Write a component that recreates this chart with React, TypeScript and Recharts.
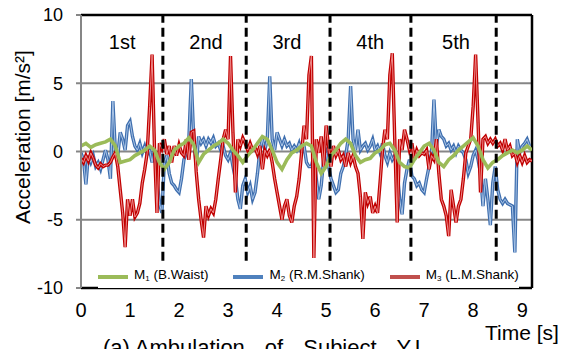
import React from "react";
import {
  LineChart,
  Line,
  XAxis,
  YAxis,
  CartesianGrid,
  ReferenceLine,
  ReferenceDot,
} from "recharts";

// sampling grid of the recorded signals
const STEP = 0.05;
const GREEN_STEP = 0.1;

// M3 (L.M.Shank), every 0.05 s from 0 s
const m3Values = [
  -0.5, -0.8, -0.3, -0.7, -0.1, -0.5, -1.0, -1.2, -0.9, -1.1, -1.0, -1.0, -0.8, -0.4, -0.1, -1.1, -2.8, -4.5, -7.0, -3.5,
  -4.7, -3.5, -4.8, -4.5, -3.8, -2.3, -1.3, -0.1, 3.3, 7.1, 0.1, -4.5, 0.6, 0.2, 0.9, -0.2, 0.4, -0.8, 0.4, -0.3,
  0.5, -0.1, -0.3, 0.9, -0.6, 1.4, 1.5, -1.5, -3.5, -5.0, -6.3, -4.0, -4.7, -4.2, -4.5, -3.5, -2.0, -0.6, 0.9, 1.6,
  0.9, 7.0, 1.4, -3.0, 0.9, 0.4, 1.0, 0.6, 0.1, 0.6, 0.1, 0.3, -0.2, 0.4, -1.3, 0.1, -0.3, 0.1, -0.8, -2.0,
  -3.0, -4.0, -5.0, -4.0, -3.5, -4.7, -5.2, -4.0, -3.3, -2.0, -0.1, 1.9, 0.9, 5.6, 7.0, -7.8, 0.9, -0.1, 1.1, -1.1,
  1.9, 0.4, -1.1, 0.4, -0.3, 0.1, -0.6, -0.3, -1.1, -0.1, -0.8, -0.3, -1.1, -1.6, -3.3, -6.4, -3.0, -3.8, -3.3, -4.5,
  -4.0, -4.5, -2.3, 0.1, 1.6, 0.9, 5.6, 7.2, 0.9, -5.2, 0.9, 0.1, 1.6, 0.9, 0.1, 0.6, -0.6, 0.1, -0.3, -0.1,
  -0.2, 0.1, -1.3, -0.3, -0.6, 0.9, -1.6, -3.5, -4.0, -4.7, -6.2, -2.8, -4.0, -5.2, -4.0, -3.5, -2.0, -0.1, 0.4, 0.9,
  3.3, 7.1, 2.1, -3.0, 0.9, 1.1, 0.6, 0.9, 0.6, 0.9, 0.4, 0.6, 0.1, 0.9, 0.1, 0.4, -0.3, -0.1, -0.8, -0.3,
  -0.8, -0.3, -0.8, -0.6, -0.7,
];

// M2 (R.M.Shank), every 0.05 s from 0 s
const m2Values = [
  -0.1, -0.6, -2.4, -0.3, -0.8, -0.3, -1.1, -0.8, -1.3, -0.6, 0.1, -0.6, -2.0, 3.7, 0.1, -0.3, 1.4, 0.9, 0.1, 1.9,
  2.2, 1.1, 0.4, 0.1, 0.6, -0.1, 0.4, -0.2, 0.1, -0.8, 0.1, -2.0, -3.8, -4.5, -0.8, -0.3, -1.6, -2.3, -2.5, -2.8,
  -3.0, -2.0, -0.6, -0.1, 0.9, 5.3, 0.9, -1.0, 1.1, 0.6, 0.9, 0.4, 0.9, 0.6, 1.0, 0.4, 0.6, 0.1, 0.4, -0.3,
  -0.6, -0.1, -1.1, -2.0, -3.5, -4.2, -2.5, -2.0, -3.0, -2.5, -3.5, -3.0, -1.6, 0.1, 0.9, 0.1, 0.9, 5.5, 0.9, 0.1,
  1.4, 0.9, 0.4, 0.9, 0.4, 0.6, 0.1, 0.4, 0.1, 0.6, -0.1, 0.4, -0.8, -1.1, -1.1, -0.3, -2.0, -3.5, -2.5, -0.6,
  -0.1, -1.1, -2.0, -2.5, -3.0, -2.8, -1.6, -1.1, -0.3, 0.9, 4.8, 0.9, 0.1, 1.6, 0.1, 0.4, 0.6, 0.1, 0.4, 0.9,
  0.1, 0.4, -0.1, 0.6, -0.3, -0.8, -0.1, -0.6, -0.3, -1.3, -3.5, -4.6, -2.3, -1.3, -0.6, -1.8, -2.0, -2.5, -2.3, -2.8,
  -3.0, -2.0, -1.1, -0.1, 3.8, 0.4, 1.6, 1.1, 0.9, 0.4, 0.6, 0.1, 0.4, -0.1, 0.4, 0.1, -0.1, -0.6, -1.6, -1.1,
  -0.3, 0.1, -0.6, -1.6, -4.0, -2.0, -3.5, -5.4, -2.3, -1.1, -2.8, -3.5, -3.8, -3.5, -3.8, -3.9, -4.0, -7.4, 0.9, -0.1,
  0.4, 0.6, 0.9, 0.4,
];

// M1 (B.Waist), every 0.1 s from 0 s
const m1Values = [
  0.4, 0.6, 0.3, 0.5, 0.6, 0.7, 0.9, 0.4, -0.8, -0.7,
  -0.6, -0.3, -0.1, 0.1, 0.4, 0.1, -0.8, -1.3, -0.8, 0.1,
  0.4, 0.6, 1.0, 0.5, -0.8, -0.2, 0.1, 0.4, 0.6, 0.9,
  0.6, 0.1, -0.3, -0.8, -0.3, 0.1, 0.6, 1.1, 0.9, 0.1,
  -0.8, -1.3, -0.6, -0.1, 0.1, 0.4, 0.6, 0.4, -0.8, -1.6,
  -1.1, -0.3, 0.1, 0.6, 0.9, 0.6, -0.3, -0.8, -0.6, -0.5,
  -0.1, 0.1, 0.5, 0.6, 0.1, -0.8, -1.1, -1.2, -0.6, -0.1,
  0.4, 0.6, 0.1, -0.8, -1.1, -0.6, -0.3, 0.1, 0.4, 0.7,
  1.0, 0.4, -0.6, -1.2, -0.8, -0.6, -0.3, -0.1, 0.1, -0.1,
  0.1, 0.4, 0.1,
];

const xTicks = [0, 1, 2, 3, 4, 5, 6, 7, 8, 9];
const yTicks = [-10, -5, 0, 5, 10];
const stepBoundaries = [1.67, 3.37, 5.08, 6.73, 8.47];
const stepLabels = ["1st", "2nd", "3rd", "4th", "5th"];
const stepLabelTimes = [0.84, 2.55, 4.2, 5.9, 7.65];

const legendItems = [
  { name: "M", sub: "1", desc: "(B.Waist)", color: "#9BBB59" },
  { name: "M", sub: "2", desc: "(R.M.Shank)", color: "#4F81BD" },
  { name: "M", sub: "3", desc: "(L.M.Shank)", color: "#C0504D" },
];

const toSeries = (values: number[], step: number) =>
  values.map((v, i) => ({ t: Math.round(i * step * 100) / 100, v }));

const m1 = toSeries(m1Values, GREEN_STEP);
const m2 = toSeries(m2Values, STEP);
const m3 = toSeries(m3Values, STEP);

const FONT = '"Liberation Sans", Arial, sans-serif';

export default function App() {
  return (
    <div
      style={{
        position: "absolute",
        left: 0,
        top: 0,
        width: 565,
        height: 349,
        background: "#fff",
        fontFamily: FONT,
        overflow: "hidden",
      }}
    >
      <LineChart
        width={565}
        height={349}
        margin={{ top: 15, right: 33, bottom: 21, left: 0 }}
        style={{ fontFamily: FONT }}
      >
        <CartesianGrid
          vertical={false}
          stroke="#868686"
          strokeWidth={2}
        />
        <XAxis
          type="number"
          dataKey="t"
          domain={[0, 9.2]}
          ticks={xTicks}
          allowDataOverflow
          height={40}
          tickLine={false}
          axisLine={false}
          tickSize={6}
          tickMargin={9}
          tick={{ fontSize: 20, fill: "#000" }}
        />
        <YAxis
          type="number"
          domain={[-10, 10]}
          ticks={yTicks}
          width={81}
          tickSize={5}
          tickMargin={13}
          axisLine={{ stroke: "#868686", strokeWidth: 2 }}
          tickLine={{ stroke: "#868686", strokeWidth: 2 }}
          tick={{ fontSize: 18, fill: "#000" }}
        />
        <ReferenceLine y={10} stroke="#000" strokeWidth={2.5} />
        <ReferenceLine y={-10} stroke="#000" strokeWidth={2.5} />
        <ReferenceLine x={9.2} stroke="#000" strokeWidth={2.5} />

        <Line data={m2} dataKey="v" stroke="#3F6FAF" strokeWidth={3.4} dot={false} isAnimationActive={false} />
        <Line data={m2} dataKey="v" stroke="#A9C4E6" strokeWidth={1} dot={false} isAnimationActive={false} />
        <Line data={m3} dataKey="v" stroke="#C00000" strokeWidth={3.4} dot={false} isAnimationActive={false} />
        <Line data={m3} dataKey="v" stroke="#EE8A8A" strokeWidth={1} dot={false} isAnimationActive={false} />
        <Line data={m1} dataKey="v" stroke="#9BBB59" strokeWidth={3.6} dot={false} isAnimationActive={false} />

        {stepBoundaries.map((d) => (
          <ReferenceLine
            key={d}
            segment={[
              { x: d, y: -8 },
              { x: d, y: 10 },
            ]}
            stroke="#000"
            strokeWidth={3}
            strokeDasharray="9 5"
          />
        ))}
        {stepLabels.map((s, i) => (
          <ReferenceDot
            key={s}
            x={stepLabelTimes[i]}
            y={8}
            r={1}
            fill="none"
            stroke="none"
            label={{ value: s, position: "center", fontSize: 20, fill: "#000" }}
          />
        ))}
      </LineChart>

      <svg
        width={565}
        height={349}
        style={{ position: "absolute", left: 0, top: 0, pointerEvents: "none" }}
      >
        <text
          transform="translate(30,137) rotate(-90)"
          textAnchor="middle"
          fontSize={21}
          fontFamily={FONT}
          fill="#000"
        >
          Acceleration [m/s²]
        </text>
        <text x={485} y={340} fontSize={21} fontFamily={FONT} fill="#000">
          Time [s]
        </text>
        <text x={103} y={355} fontSize={22} fontFamily={FONT} fill="#000">
          <tspan>(a) Ambulation</tspan>
          <tspan dx={20}>of</tspan>
          <tspan dx={20}>Subject</tspan>
          <tspan dx={20}>Y.I.</tspan>
        </text>
      </svg>

      <div
        style={{
          position: "absolute",
          left: 98,
          top: 266,
          display: "flex",
          gap: 25,
          alignItems: "center",
          fontSize: 13.5,
          lineHeight: "18px",
          color: "#000",
          background: "#fff",
        }}
      >
        {legendItems.map((it) => (
          <div key={it.sub} style={{ display: "flex", alignItems: "center" }}>
            <span
              style={{
                display: "inline-block",
                width: 30,
                height: 4,
                background: it.color,
                marginRight: 6,
              }}
            />
            <span>
              {it.name}
              <sub style={{ fontSize: 8, verticalAlign: "-2px" }}>{it.sub}</sub> {it.desc}
            </span>
          </div>
        ))}
      </div>
    </div>
  );
}
